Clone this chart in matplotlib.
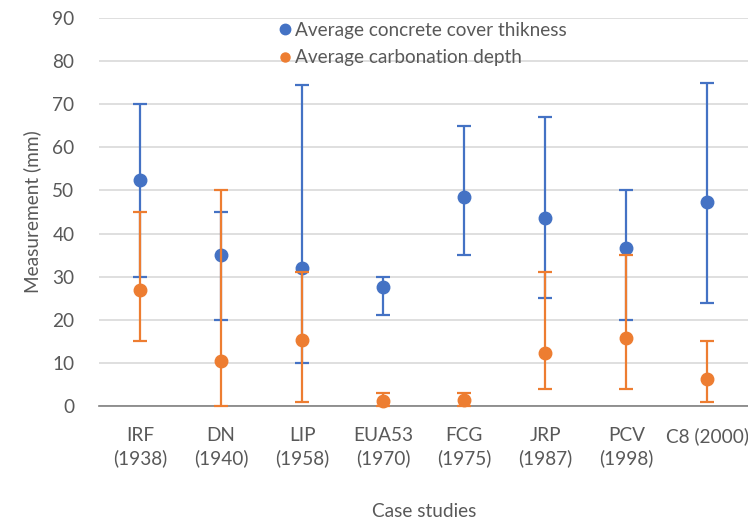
import matplotlib.pyplot as plt
import numpy as np

CASES = ["IRF\n(1938)", "DN\n(1940)", "LIP\n(1958)", "EUA53\n(1970)",
         "FCG\n(1975)", "JRP\n(1987)", "PCV\n(1998)", "C8 (2000)"]

# average, min, max (mm)
COVER_AVG = [52.5, 35.0, 32.0, 27.7, 48.5, 43.5, 36.7, 47.3]
COVER_MIN = [30, 20, 10, 21, 35, 25, 20, 24]
COVER_MAX = [70, 45, 74.5, 30, 65, 67, 50, 75]

CARB_AVG = [27.0, 10.5, 15.3, 1.2, 1.5, 12.2, 15.7, 6.2]
CARB_MIN = [15, 0, 1, 0, 0, 4, 4, 1]
CARB_MAX = [45, 50, 31, 3, 3, 31, 35, 15]

BLUE = "#4472C4"
ORANGE = "#ED7D31"
TEXT = "#595959"
FS = 13.7

plt.rcParams.update({"font.family": ["Lato", "DejaVu Sans"], "font.size": FS})
fig = plt.figure(figsize=(7.48, 5.21), dpi=100)
ax = fig.add_axes([0.133, 0.2207, 0.867, 0.7448])

x = np.arange(len(CASES))


def draw(avg, lo, hi, color, z):
    avg = np.array(avg)
    err = [avg - np.array(lo), np.array(hi) - avg]
    ax.errorbar(x, avg, yerr=err, fmt="o", color=color, ecolor=color,
                markersize=9, elinewidth=1.6, capsize=5, capthick=1.6,
                zorder=z, clip_on=False)


draw(COVER_AVG, COVER_MIN, COVER_MAX, BLUE, 3)
draw(CARB_AVG, CARB_MIN, CARB_MAX, ORANGE, 4)

ax.set_xlim(-0.5, len(CASES) - 0.5)
ax.set_ylim(0, 90)
ax.set_yticks(range(0, 91, 10))
ax.set_xticks(x)
ax.set_xticklabels(CASES, color=TEXT, linespacing=1.35)
ax.tick_params(axis="both", length=0, colors=TEXT, labelsize=FS)
ax.tick_params(axis="x", pad=15)
ax.tick_params(axis="y", pad=18)
ax.grid(axis="y", color="#D9D9D9", linewidth=1.2)
ax.set_axisbelow(True)
for side in ["top", "right", "left"]:
    ax.spines[side].set_visible(False)
ax.spines["bottom"].set_color("#808080")
ax.spines["bottom"].set_linewidth(1.2)

ax.set_ylabel("Measurement (mm)", color=TEXT, fontsize=FS, labelpad=8)
ax.set_xlabel("Case studies", color=TEXT, fontsize=FS, labelpad=26)

handles = [
    plt.Line2D([], [], marker="o", linestyle="", color=BLUE, markersize=7.5),
    plt.Line2D([], [], marker="o", linestyle="", color=ORANGE, markersize=6.5),
]
leg = ax.legend(handles, ["Average concrete cover thikness", "Average carbonation depth"],
                loc="upper left", bbox_to_anchor=(0.26, 1.01), frameon=False,
                handletextpad=0.0, labelspacing=0.55, borderaxespad=0,
                fontsize=FS, handlelength=1.0)
for t in leg.get_texts():
    t.set_color(TEXT)

fig.savefig("out.png", dpi=100)
